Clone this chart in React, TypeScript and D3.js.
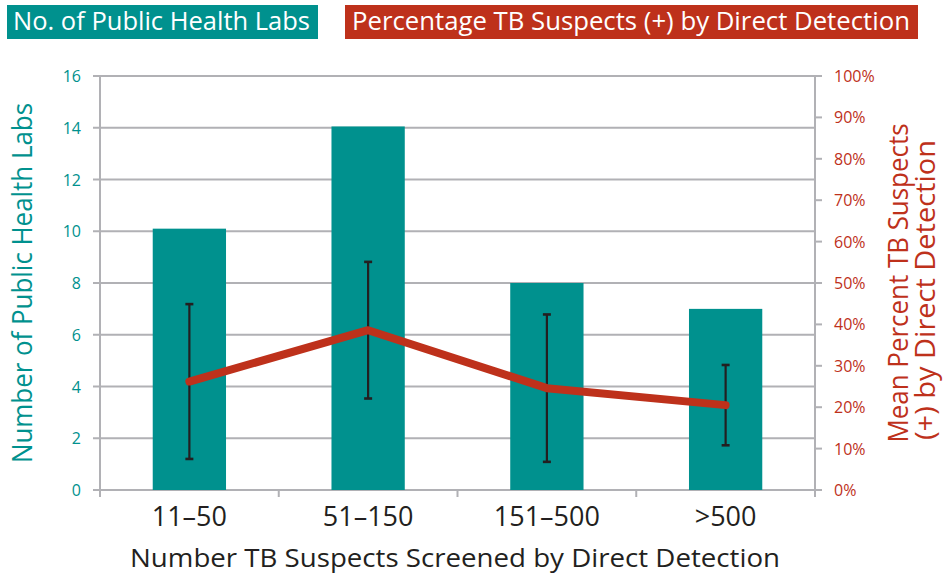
import React from 'react';
import * as d3 from 'd3';

const categories = ['11–50', '51–150', '151–500', '>500'];
const labCounts = [10.1, 14.05, 8, 7];
const meanPercent = [26.2, 38.6, 24.6, 20.5];
const errorPercent = [18.7, 16.5, 17.8, 9.7];
const leftTicks = [0, 2, 4, 6, 8, 10, 12, 14, 16];
const rightTicks = [0, 10, 20, 30, 40, 50, 60, 70, 80, 90, 100];

const TEAL = '#00918e';
const RED = '#be311b';
const GRID = '#b1b1b5';
const FONT = '"Open Sans", "Noto Sans", sans-serif';

export default function App() {
  const W = 946, H = 579;
  const left = 100, right = 815, top = 76, bottom = 490;

  const x = d3.scaleBand<string>().domain(categories).range([left, right]).paddingInner(0.59).paddingOuter(0.295);
  const yL = d3.scaleLinear().domain([0, 16]).range([bottom, top]);
  const yR = d3.scaleLinear().domain([0, 100]).range([bottom, top]);
  const cx = (c: string) => (x(c) as number) + x.bandwidth() / 2;

  const line = d3.line<number>()
    .x((_, i) => cx(categories[i]))
    .y((d) => yR(d));

  const boundaries = d3.range(categories.length + 1).map((i) => left + i * ((right - left) / categories.length));

  return (
    <svg width={W} height={H} style={{ position: 'absolute', left: 0, top: 0, background: '#fff' }}>
      {/* legend */}
      <rect x={7} y={5} width={311} height={34} fill={TEAL} />
      <text x={13} y={30} fill="#fff" fontFamily={FONT} fontSize={25} textLength={297} lengthAdjust="spacingAndGlyphs">No. of Public Health Labs</text>
      <rect x={345} y={5} width={573} height={34} fill={RED} />
      <text x={352} y={30} fill="#fff" fontFamily={FONT} fontSize={25} textLength={558} lengthAdjust="spacingAndGlyphs">Percentage TB Suspects (+) by Direct Detection</text>

      {/* gridlines + left ticks */}
      {leftTicks.map((t) => (
        <g key={'l' + t}>
          <line x1={93} x2={right} y1={yL(t)} y2={yL(t)} stroke={GRID} strokeWidth={2} />
          <text x={81} y={yL(t) + 6} textAnchor="end" fill={TEAL} fontFamily={FONT} fontSize={16}>{t}</text>
        </g>
      ))}
      {/* right ticks */}
      {rightTicks.map((t) => (
        <g key={'r' + t}>
          <line x1={right} x2={822} y1={yR(t)} y2={yR(t)} stroke={GRID} strokeWidth={2} />
          <text x={834} y={yR(t) + 6} textAnchor="start" fill={RED} fontFamily={FONT} fontSize={16}>{t + '%'}</text>
        </g>
      ))}
      {/* axes */}
      <line x1={left} x2={left} y1={top - 1} y2={497} stroke={GRID} strokeWidth={2} />
      <line x1={right} x2={right} y1={top - 1} y2={497} stroke={GRID} strokeWidth={2} />
      {boundaries.map((b, i) => (
        <line key={'b' + i} x1={b} x2={b} y1={bottom} y2={497} stroke={GRID} strokeWidth={2} />
      ))}

      {/* bars */}
      {categories.map((c, i) => (
        <rect key={'bar' + c} x={x(c)} y={yL(labCounts[i])} width={x.bandwidth()} height={bottom - yL(labCounts[i])} fill={TEAL} />
      ))}

      {/* error bars */}
      {categories.map((c, i) => {
        const hi = yR(meanPercent[i] + errorPercent[i]);
        const lo = yR(meanPercent[i] - errorPercent[i]);
        const xc = cx(c);
        return (
          <g key={'err' + c} stroke="#231f20" strokeWidth={2.2}>
            <line x1={xc} x2={xc} y1={hi} y2={lo} />
            <line x1={xc - 4} x2={xc + 4} y1={hi} y2={hi} strokeWidth={2.6} />
            <line x1={xc - 4} x2={xc + 4} y1={lo} y2={lo} strokeWidth={2.6} />
          </g>
        );
      })}

      {/* line */}
      <path d={line(meanPercent) || ''} fill="none" stroke={RED} strokeWidth={8} strokeLinecap="round" strokeLinejoin="round" />

      {/* x labels */}
      {categories.map((c) => (
        <text key={'xl' + c} x={cx(c)} y={526} textAnchor="middle" fill="#231f20" fontFamily={FONT} fontSize={27}>{c}</text>
      ))}
      <text x={455} y={567} textAnchor="middle" fill="#231f20" fontFamily={FONT} fontSize={25} textLength={650} lengthAdjust="spacingAndGlyphs">Number TB Suspects Screened by Direct Detection</text>

      {/* left title */}
      <text transform={`translate(32, 283) rotate(-90)`} textAnchor="middle" fill={TEAL} fontFamily={FONT} fontSize={27} textLength={360} lengthAdjust="spacingAndGlyphs">Number of Public Health Labs</text>
      {/* right title */}
      <text transform={`translate(908, 283) rotate(-90)`} textAnchor="middle" fill={RED} fontFamily={FONT} fontSize={27} textLength={319} lengthAdjust="spacingAndGlyphs">Mean Percent TB Suspects</text>
      <text transform={`translate(935, 290) rotate(-90)`} textAnchor="middle" fill={RED} fontFamily={FONT} fontSize={27} textLength={300} lengthAdjust="spacingAndGlyphs">(+) by Direct Detection</text>
    </svg>
  );
}
